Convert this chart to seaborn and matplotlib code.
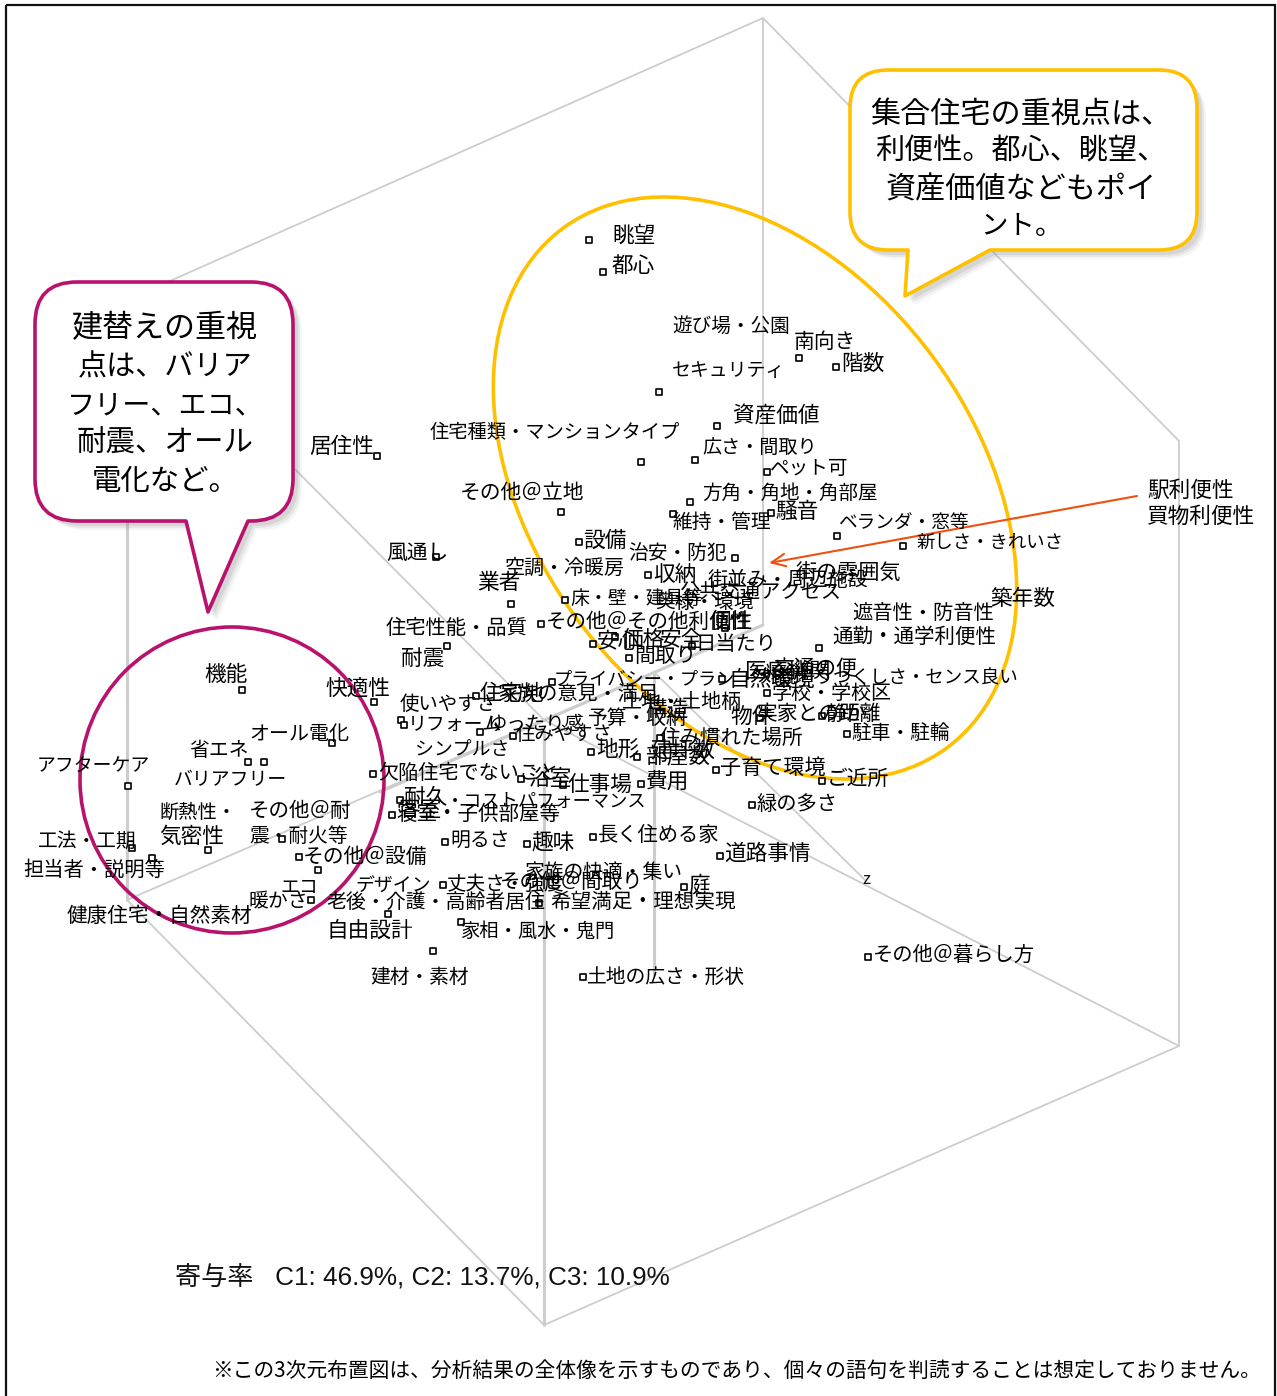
import matplotlib
matplotlib.use("Agg")
import matplotlib.pyplot as plt
import pandas as pd
import seaborn as sns
from matplotlib.patches import Ellipse, PathPatch, Rectangle
from matplotlib.path import Path

# Term labels and where they sit on the map
term_names = ["眺望", "都心", "遊び場・公園", "南向き", "階数", "セキュリティ", "資産価値",
              "住宅種類・マンションタイプ", "広さ・間取り", "ペット可", "居住性", "その他＠立地",
              "方角・角地・角部屋", "騒音", "維持・管理", "ベランダ・窓等", "新しさ・きれいさ",
              "設備", "治安・防犯", "風通し", "空調・冷暖房", "業者", "収納", "街の雰囲気",
              "街並み・周辺施設", "公共交通アクセス", "床・壁・建具等", "奥様・環境",
              "その他＠その他利便性", "個性", "安心", "価格", "安全", "日当たり", "間取り",
              "プライバシー・プラン", "自然環境", "医療機関", "交通の便",
              "外観・うつくしさ・センス良い", "学校・学校区", "土地・土地柄", "住宅地",
              "家族の意見・満足", "使いやすさ", "リフォーム", "ゆったり感", "住みやすさ",
              "シンプルさ", "予算・収納", "構造", "物件", "実家との距離", "静か",
              "住み慣れた場所", "地形", "部屋数", "建坪数", "駐車・駐輪", "子育て環境", "ご近所",
              "欠陥住宅でないこと", "浴室", "仕事場", "費用", "耐久", "・コストパフォーマンス",
              "緑の多さ", "寝室・子供部屋等", "客室", "明るさ", "趣味", "長く住める家", "道路事情",
              "その他＠設備", "家族の快適・集い", "その他＠間取り", "丈夫さ・強度", "庭",
              "デザイン", "エコ", "暖かさ", "健康住宅・自然素材", "老後・介護・高齢者居住",
              "希望満足・理想実現", "自由設計", "家相・風水・鬼門", "建材・素材",
              "土地の広さ・形状", "その他＠暮らし方", "その他＠耐", "震・耐火等", "断熱性・",
              "気密性", "工法・工期", "担当者・説明等", "アフターケア", "バリアフリー", "省エネ",
              "オール電化", "機能", "快適性", "住宅性能・品質", "耐震", "遮音性・防音性",
              "通勤・通学利便性", "築年数", "駅利便性", "買物利便性"]
term_x = [612, 612, 672, 794, 841, 672, 733,
          430, 702, 770, 309, 460,
          702, 775, 672, 838, 916,
          583, 628, 386, 505, 477, 653, 796,
          708, 680, 570, 655,
          546, 710, 597, 622, 660, 695, 634,
          554, 728, 745, 773,
          760, 772, 622, 480,
          498, 400, 408, 487, 516,
          415, 588, 645, 730, 757, 825,
          660, 596, 645, 650, 851, 720, 827,
          378, 528, 568, 646, 404, 446,
          757, 396, 398, 450, 531, 598, 724,
          303, 525, 500, 447, 688,
          355, 280, 248, 67, 326,
          550, 326, 461, 370,
          587, 873, 249, 249, 159,
          159, 38, 23, 37, 174, 189,
          249, 204, 325, 386, 401, 852,
          832, 990, 1147, 1147]
term_y = [234, 264, 324, 340, 362, 369, 415,
          430, 445, 467, 445, 491,
          491, 510, 521, 521, 541,
          539, 551, 551, 566, 581, 573, 572,
          578, 590, 597, 600,
          620, 620, 640, 638, 638, 642, 654,
          677, 678, 670, 667,
          677, 691, 700, 692,
          692, 703, 722, 722, 733,
          747, 716, 708, 716, 712, 712,
          736, 748, 754, 748, 731, 766, 777,
          771, 777, 783, 781, 796, 800,
          802, 812, 808, 839, 840, 833, 852,
          855, 870, 880, 882, 884,
          884, 885, 899, 914, 900,
          900, 929, 929, 975,
          975, 953, 809, 834, 810,
          835, 839, 868, 763, 778, 748,
          733, 673, 688, 627, 657, 611,
          635, 597, 489, 515]

# Square markers
point_x = [589, 603, 799, 836, 659, 717, 641, 695, 767, 377, 561, 690, 771, 673, 837, 903,
           579, 735, 436, 511, 648, 565, 541, 593, 615, 692, 629, 552, 722, 767, 476, 401,
           404, 513, 591, 637, 847, 716, 822, 373, 521, 563, 641, 400, 752, 392, 445, 527,
           593, 720, 299, 318, 443, 684, 311, 388, 539, 461, 433, 583, 868, 282, 208, 132,
           152, 128, 264, 248, 332, 242, 374, 447, 819, 822, 660, 760, 725, 480]
point_y = [240, 272, 358, 367, 392, 426, 462, 460, 472, 456, 512, 502, 513, 514, 536, 546,
           542, 558, 557, 604, 575, 600, 624, 644, 637, 646, 658, 682, 679, 693, 696, 720,
           725, 736, 752, 757, 734, 770, 781, 774, 779, 785, 784, 800, 805, 815, 842, 844,
           837, 856, 857, 870, 885, 887, 900, 914, 903, 922, 951, 977, 957, 839, 850, 848,
           858, 786, 762, 762, 743, 690, 702, 646, 648, 716, 738, 718, 628, 732]

# Cube wireframe, as corner pairs
edge_x0 = [763, 763, 763, 1179, 1179, 127, 544, 127, 654, 127]
edge_y0 = [18, 18, 625, 441, 1046, 300, 720, 900, 672, 900]
edge_x1 = [1179, 127, 763, 1179, 544, 544, 1179, 544, 865, 763]
edge_y1 = [441, 300, 18, 1046, 1325, 720, 1046, 1325, 880, 625]
# The heavier lines: left upright, front upright, vertical axis, long axis
heavy_x0 = [127, 544, 654, 380]
heavy_y0 = [300, 730, 672, 792]
heavy_x1 = [127, 544, 654, 763]
heavy_y1 = [900, 1325, 975, 625]

gold_lines = ["集合住宅の重視点は、", "利便性。都心、眺望、", "資産価値などもポイ", "ント。"]
gold_y = [112, 150, 188, 225]
magenta_lines = ["建替えの重視", "点は、バリア", "フリー、エコ、", "耐震、オール", "電化など。"]
magenta_y = [327, 365, 403, 441, 479]

contribution = "寄与率   C1: 46.9%, C2: 13.7%, C3: 10.9%"
footnote = "※この3次元布置図は、分析結果の全体像を示すものであり、個々の語句を判読することは想定しておりません。"

GOLD = "#FFC000"
MAGENTA = "#B8126C"
GRID = "#CDCDCD"

sns.set_style("white")
plt.rcParams['font.family'] = ['Noto Sans CJK JP', 'DejaVu Sans']


def fit_size(name, kanji_px):
    # The reference font is proportional: kana and the middle dot run narrower than kanji
    em = 0.0
    for ch in name:
        if ch in "・、。":
            em += 0.55
        elif "\u3040" <= ch <= "\u30ff":
            em += 0.87
        else:
            em += 1.0
    return em * kanji_px / len(name) * 0.72


def callout_path(x0, y0, x1, y1, r, tail):
    # Rounded box with a wedge hanging off the bottom edge
    verts = [(x0 + r, y0), (x1 - r, y0), (x1, y0), (x1, y0 + r), (x1, y1 - r), (x1, y1), (x1 - r, y1)]
    codes = [Path.MOVETO, Path.LINETO, Path.CURVE3, Path.CURVE3, Path.LINETO, Path.CURVE3, Path.CURVE3]
    verts += [tail[2], tail[1], tail[0]]
    codes += [Path.LINETO] * 3
    verts += [(x0 + r, y1), (x0, y1), (x0, y1 - r), (x0, y0 + r), (x0, y0), (x0 + r, y0)]
    codes += [Path.LINETO, Path.CURVE3, Path.CURVE3, Path.LINETO, Path.CURVE3, Path.CURVE3]
    return Path(verts, codes)


def callout(ax, x0, y0, x1, y1, r, tail, color):
    path = callout_path(x0, y0, x1, y1, r, tail)
    # soft shadow from a few offset copies
    for off, alpha in [(9, 0.08), (7, 0.12), (5, 0.16)]:
        shadow = PathPatch(path, fc="#808080", ec="none", alpha=alpha, zorder=5,
                           transform=matplotlib.transforms.Affine2D().translate(off, off) + ax.transData)
        ax.add_patch(shadow)
    ax.add_patch(PathPatch(path, fc="white", ec=color, lw=2.6, zorder=6, joinstyle="round"))


fig, ax = plt.subplots(figsize=(12.77, 13.96), dpi=100)
ax.set_position([0, 0, 1, 1])

points = pd.DataFrame({"x": point_x, "y": point_y})
sns.scatterplot(data=points, x="x", y="y", marker="s", s=14, color="white",
                edgecolor="black", linewidth=1.2, ax=ax, zorder=3, legend=False)

ax.set_xlim(0, 1277)
ax.set_ylim(1396, 0)
ax.axis("off")

ax.add_patch(Rectangle((6, 5), 1269, 1400, fill=False, ec="#111111", lw=1.6, zorder=1))

for x0, y0, x1, y1 in zip(edge_x0, edge_y0, edge_x1, edge_y1):
    ax.plot([x0, x1], [y0, y1], color=GRID, lw=1.3, zorder=1)
for x0, y0, x1, y1 in zip(heavy_x0, heavy_y0, heavy_x1, heavy_y1):
    ax.plot([x0, x1], [y0, y1], color=GRID, lw=2.2, zorder=1)
ax.text(862, 879, "z", fontsize=12, ha="left", va="center", color="#111111")

ax.add_patch(Ellipse((755, 488), 646, 442, angle=53.5, fill=False, ec=GOLD, lw=2.6, zorder=2))
ax.add_patch(Ellipse((232, 780), 304, 306, fill=False, ec=MAGENTA, lw=2.6, zorder=2))

# Leader arrow for the station / shopping labels
ax.annotate("", xy=(769, 563), xytext=(1137, 496),
            arrowprops=dict(arrowstyle="->,head_length=1.0,head_width=0.45", color="#F0500F", lw=1.5,
                            shrinkA=0, shrinkB=0), zorder=2)

for name, x, y in zip(term_names, term_x, term_y):
    ax.text(x, y + 2, name, fontsize=fit_size(name, 21.7), ha="left", va="center", color="black", zorder=4)

callout(ax, 850, 70, 1197, 250, 38, [(908, 250), (905, 296), (990, 250)], GOLD)
for line, y in zip(gold_lines, gold_y):
    ax.text(1021, y + 2, line, fontsize=fit_size(line, 32) * 0.5 + 11, ha="center", va="center",
            color="black", zorder=7)

callout(ax, 35, 282, 293, 521, 42, [(186, 521), (208, 612), (248, 521)], MAGENTA)
for line, y in zip(magenta_lines, magenta_y):
    ax.text(165, y + 2, line, fontsize=fit_size(line, 33) * 0.5 + 11, ha="center", va="center",
            color="black", zorder=7)

ax.text(175, 1278, contribution, fontsize=18.8, ha="left", va="center", color="#111111",
        family=['Liberation Sans', 'Noto Sans CJK JP'])
ax.text(212, 1371, footnote, fontsize=14.95, ha="left", va="center", color="black")

fig.savefig("out.png", dpi=100)
